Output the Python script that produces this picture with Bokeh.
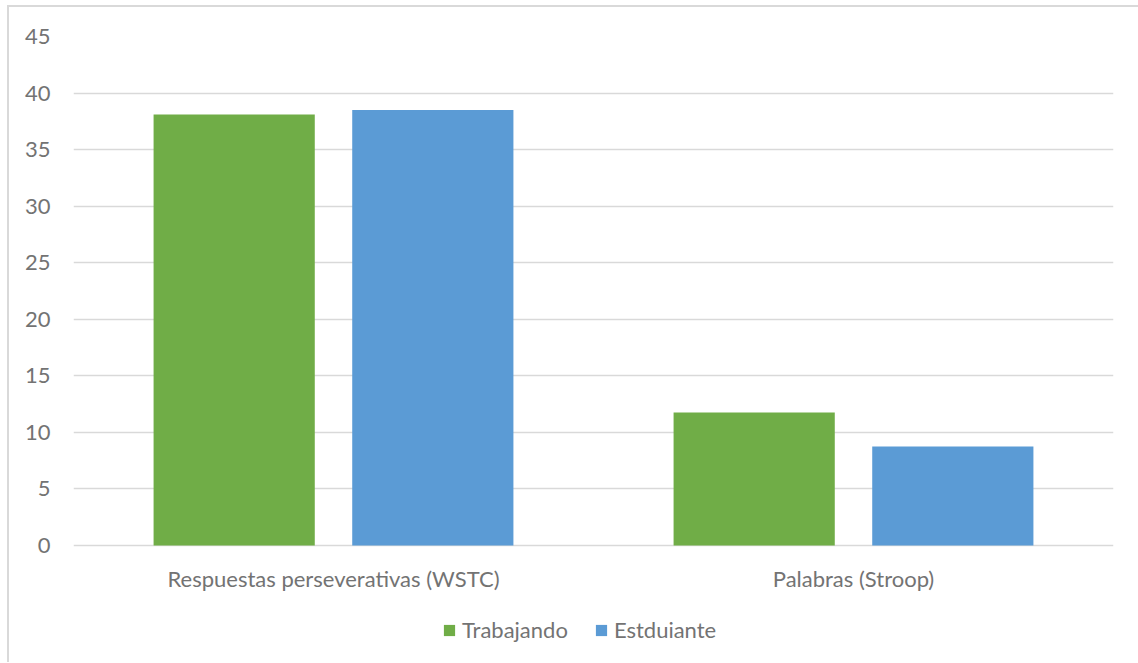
from bokeh.plotting import figure
from bokeh.models import FactorRange, Range1d, FixedTicker, Legend, LegendItem, ColumnDataSource
from bokeh.transform import dodge
from bokeh.core.properties import value
from bokeh.embed import file_html
from bokeh.resources import INLINE

categories = ["Respuestas perseverativas (WSTC)", "Palabras (Stroop)"]
trabajando = [38.1, 11.75]
estudiante = [38.5, 8.75]
series_names = ["Trabajando", "Estduiante"]
y_ticks = [0, 5, 10, 15, 20, 25, 30, 35, 40, 45]

GREEN = "#70AD47"
BLUE = "#5B9BD5"
TEXT = "#737373"
GRID = "#d9d9d9"
FONT = "Lato"
FONT_SIZE = "22px"

# value axis runs 0..45 over 509 px; the frame continues below zero to hold
# the category labels and the legend
PX_PER_UNIT = 509 / 45
Y_BOTTOM = -117 / PX_PER_UNIT
LABEL_Y = -33 / PX_PER_UNIT

source = ColumnDataSource(dict(cat=categories, trab=trabajando, estu=estudiante))
label_source = ColumnDataSource(dict(cat=categories, y=[LABEL_Y] * len(categories)))

p = figure(
    x_range=FactorRange(*categories, range_padding=0, factor_padding=0),
    y_range=Range1d(Y_BOTTOM, 45),
    frame_width=1040, frame_height=626,
    output_backend="svg", toolbar_location=None,
    min_border_left=64, min_border_right=25, min_border_top=29, min_border_bottom=0,
)
p.margin = (5, 0, 0, 7)
p.styles = {"border-left": "2px solid #d9d9d9", "border-top": "2px solid #d9d9d9"}
p.outline_line_color = None
p.background_fill_color = "white"
p.border_fill_color = "white"

r1 = p.vbar(x=dodge("cat", -0.191, range=p.x_range), top="trab", width=0.31,
            source=source, fill_color=GREEN, line_color=None)
r2 = p.vbar(x=dodge("cat", 0.191, range=p.x_range), top="estu", width=0.31,
            source=source, fill_color=BLUE, line_color=None)

# category names under each group
p.text(x="cat", y="y", text="cat", source=label_source,
       text_align="center", text_baseline="middle",
       text_font=value(FONT), text_font_size=FONT_SIZE, text_color=TEXT)

p.xaxis.visible = False
p.yaxis.ticker = FixedTicker(ticks=y_ticks)
p.yaxis.axis_line_color = None
p.yaxis.major_tick_line_color = None
p.yaxis.minor_tick_line_color = None
p.yaxis.major_tick_out = 0
p.yaxis.minor_tick_out = 0
p.yaxis.major_label_text_font = FONT
p.yaxis.major_label_text_font_size = FONT_SIZE
p.yaxis.major_label_text_color = TEXT
p.yaxis.major_label_standoff = 23

p.xgrid.grid_line_color = None
p.ygrid.grid_line_color = GRID
p.ygrid.grid_line_width = 1.5
p.ygrid.ticker = FixedTicker(ticks=y_ticks)

legend = Legend(
    items=[LegendItem(label=series_names[0], renderers=[r1]),
           LegendItem(label=series_names[1], renderers=[r2])],
    orientation="horizontal", location=(369, 19),
    glyph_width=14, glyph_height=14, label_standoff=6, spacing=26,
    label_text_font=FONT, label_text_font_size=FONT_SIZE, label_text_color=TEXT,
    border_line_color=None, background_fill_alpha=0, padding=0, margin=0,
)
p.add_layout(legend, "center")

open("out.html", "w").write(file_html(p, INLINE))
